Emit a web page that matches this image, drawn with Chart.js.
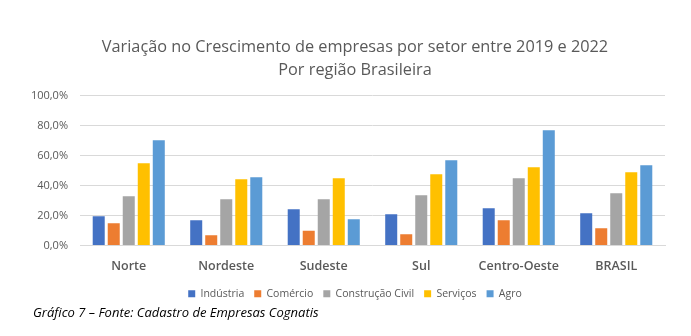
<!DOCTYPE html>
<html>
<head>
<meta charset="utf-8">
<script src="https://cdn.jsdelivr.net/npm/chart.js@4"></script>
<style>
  body { margin: 0; background: #fff; }
  #wrap { position: relative; width: 691px; height: 336px; }
  #footer {
    position: absolute; left: 33px; top: 303px;
    font-family: "Open Sans", sans-serif; font-style: italic;
    font-size: 13px; color: #000;
  }
</style>
</head>
<body>
<div id="wrap">
  <canvas id="chart" width="691" height="336"></canvas>
  <div id="footer">Gráfico 7 – Fonte: Cadastro de Empresas Cognatis</div>
</div>
<script>
const regions = ["Norte", "Nordeste", "Sudeste", "Sul", "Centro-Oeste", "BRASIL"];

const industria = [19.5, 16.9, 24.2, 20.9, 24.9, 21.5];
const comercio = [14.9, 6.9, 9.8, 7.5, 16.9, 11.5];
const construcao = [32.9, 30.9, 30.9, 33.5, 44.9, 34.9];
const servicos = [54.9, 44.2, 44.9, 47.5, 52.2, 48.9];
const agro = [70.2, 45.5, 17.5, 56.9, 76.9, 53.5];

const grey = "#595959";

// séries
const series = [
    { label: "Indústria", data: industria, color: "#4472C4" },
    { label: "Comércio", data: comercio, color: "#ED7D31" },
    { label: "Construção Civil", data: construcao, color: "#A5A5A5" },
    { label: "Serviços", data: servicos, color: "#FFC000" },
    { label: "Agro", data: agro, color: "#5B9BD5" }
];

new Chart(document.getElementById("chart"), {
    type: "bar",
    data: {
        labels: regions,
        datasets: series.map(s => ({
            label: s.label,
            data: s.data,
            backgroundColor: s.color,
            categoryPercentage: 0.77,
            barPercentage: 0.8
        }))
    },
    options: {
        responsive: false,
        animation: false,
        layout: { padding: { left: 19, right: 0, top: 14, bottom: 27 } },
        plugins: {
            title: {
                display: true,
                text: ["Variação no Crescimento de empresas por setor entre 2019 e 2022", "Por região Brasileira"],
                color: grey,
                font: { family: "Open Sans", size: 16.3, weight: "normal", lineHeight: 1.4 },
                padding: { top: 22, bottom: 14 }
            },
            legend: {
                position: "bottom",
                labels: {
                    color: grey,
                    font: { family: "Open Sans", size: 10.5 },
                    boxWidth: 7,
                    boxHeight: 7,
                    padding: 10
                }
            },
            tooltip: { enabled: false }
        },
        scales: {
            x: {
                grid: { display: false },
                border: { color: "#d9d9d9" },
                ticks: {
                    color: grey,
                    font: { family: "Open Sans", size: 12.5, weight: "600" },
                    padding: 5
                }
            },
            y: {
                min: 0,
                max: 100,
                border: { display: false },
                grid: { color: "#d9d9d9", drawTicks: false },
                afterFit: s => { s.width = 61; },
                ticks: {
                    stepSize: 20,
                    color: grey,
                    font: { family: "Open Sans", size: 11 },
                    padding: 12,
                    callback: v => v.toFixed(1).replace(".", ",") + "%"
                }
            },
            // eixo vazio só para o espaço à direita
            yRight: {
                position: "right",
                grid: { display: false },
                border: { display: false },
                ticks: { display: false },
                afterFit: s => { s.width = 26; }
            }
        }
    }
});
</script>
</body>
</html>
